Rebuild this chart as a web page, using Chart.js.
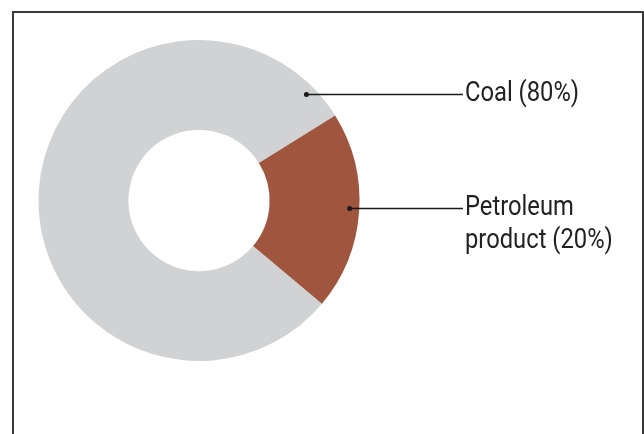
<!DOCTYPE html>
<html>
<head>
<meta charset="utf-8">
<script src="https://cdn.jsdelivr.net/npm/chart.js@4/dist/chart.umd.min.js"></script>
<style>
    html, body { margin: 0; padding: 0; background: #fff; }
    #wrap { position: relative; width: 644px; height: 434px; overflow: hidden; }
    #frame {
        position: absolute; left: 12px; top: 11px; width: 628px; height: 440px;
        border: 2px solid #3a3a3a; border-bottom: none;
    }
    canvas { position: absolute; left: 0; top: 0; }
</style>
</head>
<body>
<div id="wrap">
    <div id="frame"></div>
    <canvas id="fuel-chart" width="644" height="434"></canvas>
</div>
<script>
const categories = ["Coal", "Petroleum product"];
const shares = [80, 20];
const labelLines = [["Coal (80%)"], ["Petroleum", "product (20%)"]];
const colors = ["#d1d2d4", "#a0553f"];

// where each callout line sits, as a fraction of the outer radius from the centre
const calloutY = [-0.66, 0.05];

const calloutPlugin = {
    id: 'callouts',
    afterDatasetsDraw(chart) {
        const ctx = chart.ctx;
        const arcs = chart.getDatasetMeta(0).data;
        const textX = 465;
        ctx.save();
        arcs.forEach(function (arc, i) {
            const p = arc.getProps(['x', 'y', 'outerRadius'], true);
            const r = p.outerRadius * 0.94;
            const dy = calloutY[i] * p.outerRadius;
            const dotX = p.x + Math.sqrt(r * r - dy * dy);
            const dotY = p.y + dy;
            ctx.strokeStyle = '#1a1a1a';
            ctx.lineWidth = 1.5;
            ctx.beginPath();
            ctx.moveTo(dotX, dotY);
            ctx.lineTo(textX - 2, dotY);
            ctx.stroke();
            ctx.fillStyle = '#1a1a1a';
            ctx.beginPath();
            ctx.arc(dotX, dotY, 2.5, 0, Math.PI * 2);
            ctx.fill();
            // condensed look: squeeze Roboto horizontally
            ctx.save();
            ctx.translate(textX, 0);
            ctx.scale(0.88, 1);
            ctx.font = '27px Roboto, sans-serif';
            ctx.textBaseline = 'alphabetic';
            ctx.textAlign = 'left';
            ctx.fillStyle = '#222';
            labelLines[i].forEach(function (line, j) {
                ctx.fillText(line, 0, dotY + 6.5 + j * 33);
            });
            ctx.restore();
        });
        ctx.restore();
    }
};

new Chart(document.getElementById('fuel-chart'), {
    type: 'doughnut',
    data: {
        labels: categories,
        datasets: [{
            data: shares,
            backgroundColor: colors,
            borderWidth: 0,
            hoverOffset: 0
        }]
    },
    options: {
        responsive: false,
        animation: false,
        rotation: 130,
        cutout: '44%',
        layout: { padding: { left: 38, top: 40, right: 284, bottom: 73 } },
        plugins: {
            legend: { display: false },
            tooltip: { enabled: false }
        }
    },
    plugins: [calloutPlugin]
});
</script>
</body>
</html>
